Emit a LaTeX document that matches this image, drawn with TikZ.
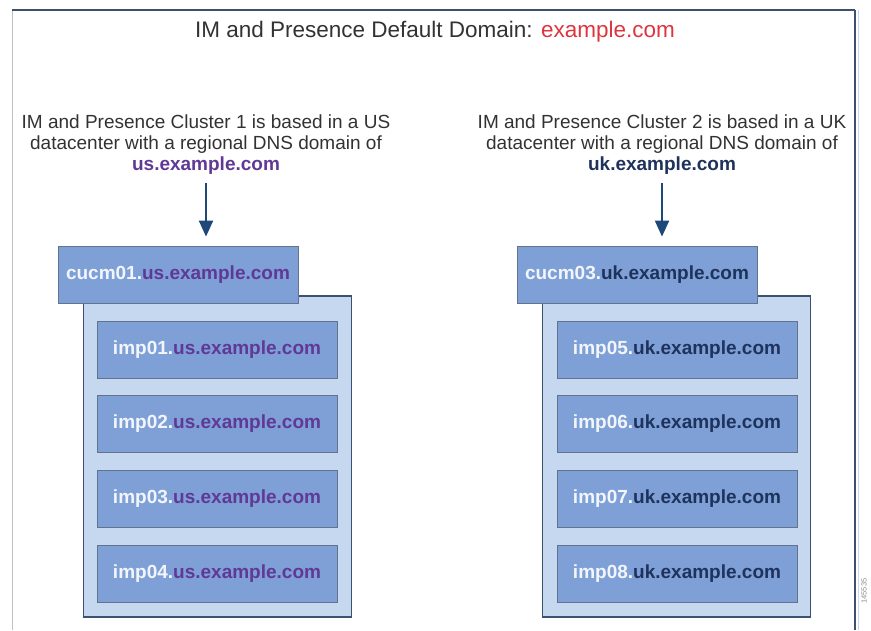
\documentclass[tikz,border=0pt]{standalone}
\usepackage{fontspec}
\setmainfont{Liberation Sans}
\usepackage{tikz}
\usetikzlibrary{positioning,arrows.meta}

\definecolor{hostblue}{RGB}{126,160,214}
\definecolor{clusterblue}{RGB}{198,216,240}
\definecolor{edgeblue}{RGB}{60,80,112}
\definecolor{hostwhite}{RGB}{242,246,252}
\definecolor{uspurple}{RGB}{96,56,150}
\definecolor{uknavy}{RGB}{30,50,92}
\definecolor{domainred}{RGB}{222,52,62}
\definecolor{arrowblue}{RGB}{30,72,122}
\definecolor{textgray}{RGB}{50,50,50}

\begin{document}
\begin{tikzpicture}[
    x=1pt, y=-1pt,
    every node/.style={font=\fontsize{19}{21}\selectfont, text=textgray},
    clusterbox/.style={rectangle, draw=edgeblue, line width=1.4pt, fill=clusterblue, minimum width=268pt, minimum height=321pt, inner sep=0pt},
    hostbox/.style={rectangle, draw=edgeblue!80, line width=0.8pt, fill=hostblue, minimum width=240pt, minimum height=57pt, inner sep=0pt, font=\bfseries\fontsize{19}{21}\selectfont, text=hostwhite},
    desc/.style={align=center, inner sep=0pt},
    arrow/.style={-{Triangle[length=16pt, width=14pt]}, line width=2pt, draw=arrowblue}
]
\useasboundingbox (0,0) rectangle (871,630);

% Frame
\draw[black!25, line width=1pt] (12,10) -- (12,630);
\draw[edgeblue, line width=1.2pt] (12,10) -- (855,10);
\draw[edgeblue, line width=2pt] (855,10) -- (855,630);
\draw[clusterblue, line width=1pt] (858,10) -- (858,630);

% Title
\node[font=\fontsize{22.5}{26}\selectfont] (title) at (435,32) {IM and Presence Default Domain: \textcolor{domainred}{example.com}};

% Cluster 1 (US)
\node[desc] (usdesc) at (206,144.5) {IM and Presence Cluster 1 is based in a US\\datacenter with a regional DNS domain of\\\textbf{\textcolor{uspurple}{us.example.com}}};

\node[clusterbox] (uscluster) at (217.5,456.5) {};
\node[hostbox] (cucm01) at (178,274.5) {cucm01.\textcolor{uspurple}{us.example.com}};
\node[hostbox] (imp01) at (217,349.5) {imp01.\textcolor{uspurple}{us.example.com}};
\node[hostbox] (imp02) at (217,424) {imp02.\textcolor{uspurple}{us.example.com}};
\node[hostbox] (imp03) at (217,499) {imp03.\textcolor{uspurple}{us.example.com}};
\node[hostbox] (imp04) at (217,573.5) {imp04.\textcolor{uspurple}{us.example.com}};

% Cluster 2 (UK)
\node[desc] (ukdesc) at (662,144.5) {IM and Presence Cluster 2 is based in a UK\\datacenter with a regional DNS domain of\\\textbf{\textcolor{uknavy}{uk.example.com}}};

\node[clusterbox] (ukcluster) at (676.5,456.5) {};
\node[hostbox] (cucm03) at (637,274.5) {cucm03.\textcolor{uknavy}{uk.example.com}};
\node[hostbox] (imp05) at (677,349.5) {imp05.\textcolor{uknavy}{uk.example.com}};
\node[hostbox] (imp06) at (677,424) {imp06.\textcolor{uknavy}{uk.example.com}};
\node[hostbox] (imp07) at (677,499) {imp07.\textcolor{uknavy}{uk.example.com}};
\node[hostbox] (imp08) at (677,573.5) {imp08.\textcolor{uknavy}{uk.example.com}};

% Arrows
\draw[arrow, shorten >=9pt] ([yshift=-8pt]usdesc.south) -- (usdesc.south |- cucm01.north);
\draw[arrow, shorten >=9pt] ([yshift=-8pt]ukdesc.south) -- (ukdesc.south |- cucm03.north);

% Figure number
\node[font=\fontsize{7.5}{9}\selectfont, text=black!45, rotate=90] (fignum) at (864,591) {145535};

\end{tikzpicture}
\end{document}
